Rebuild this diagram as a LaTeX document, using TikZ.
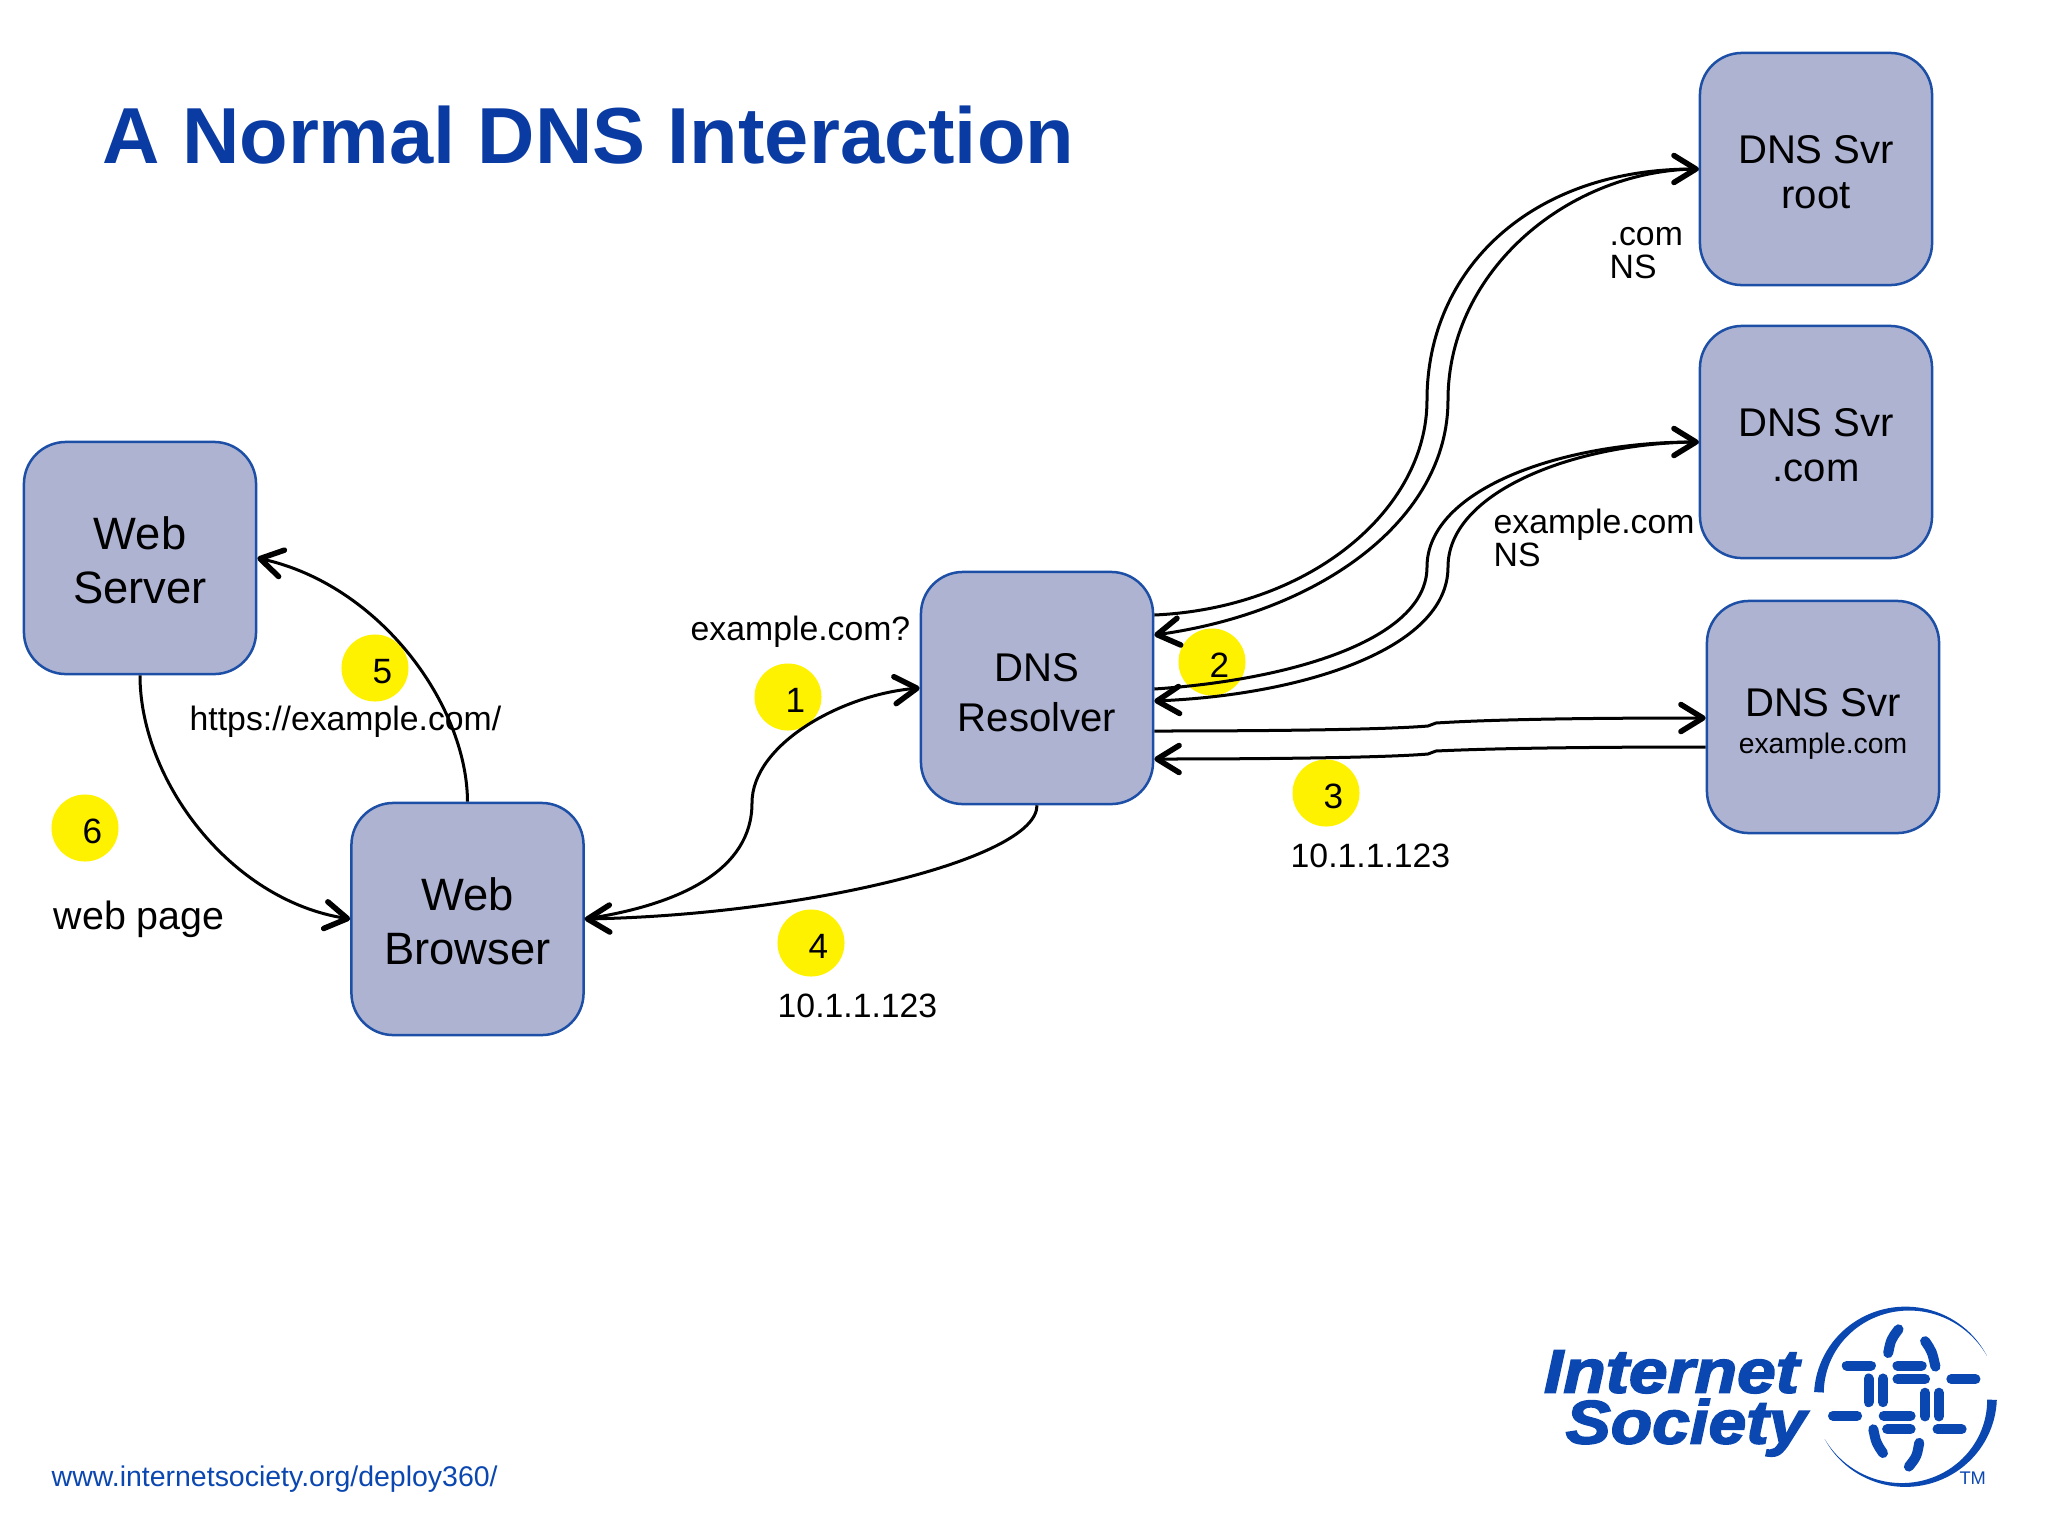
\documentclass[tikz,border=0pt]{standalone}
\usepackage{fontspec}
\setmainfont{Liberation Sans}
\newfontfamily\logofont[FakeBold=2.5]{Liberation Sans Bold Italic}
\usetikzlibrary{arrows.meta,calc}
\definecolor{isocblue}{HTML}{0B47B0}
\definecolor{titleblue}{HTML}{0A3BA3}
\definecolor{boxfill}{HTML}{AEB3D2}
\definecolor{boxline}{HTML}{1D4FA6}
\newcommand{\stepmark}[1]{\hspace{0.15cm}\rule{0pt}{8.8pt}#1}
\tikzset{
    svrbox/.style={draw=boxline, fill=boxfill, line width=0.025cm, rounded corners=0.42cm, minimum size=2.32cm, align=center, inner sep=0pt},
    badge/.style={circle, fill=yellow, minimum size=0.67cm, inner sep=0pt, font=\fontsize{10}{11}\selectfont},
    link/.style={draw=black, line width=0.03cm, -{Straight Barb[length=0.22cm,width=0.27cm,line width=0.055cm,round]}},
    note/.style={anchor=west, inner sep=0pt, align=left, font=\fontsize{9.6}{9.4}\selectfont},
}
\begin{document}
\begin{tikzpicture}[x=0.01cm, y=-0.01cm]
    \useasboundingbox (0,0) rectangle (2048,1536);
    %   Title and web address
    \node[anchor=west, inner sep=0pt, text=titleblue, font=\fontsize{22.6}{28}\selectfont\bfseries] (title) at (102,135) {A Normal DNS Interaction};
    \node[anchor=west, inner sep=0pt, text=isocblue, font=\fontsize{8.1}{10}\selectfont] (url) at (51,1479) {www.internetsociety.org/deploy360/};
    %   Yellow step markers, digits sit a little to the right
    \node[badge] (step1) at (788,697) {\stepmark{1}};
    \node[badge] (step2) at (1212,662) {\stepmark{2}};
    \node[badge] (step3) at (1326,793) {\stepmark{3}};
    \node[badge] (step4) at (811,943) {\stepmark{4}};
    \node[badge] (step5) at (375,668) {\stepmark{5}};
    \node[badge] (step6) at (85,828) {\stepmark{6}};
    %   Boxes
    \node[svrbox, font=\fontsize{12.9}{15.4}\selectfont] (server) at (140,558) {\rule{0pt}{10.8pt}Web\\Server};
    \node[svrbox, font=\fontsize{12.9}{15.4}\selectfont] (browser) at (467.5,919) {\rule{0pt}{10.8pt}Web\\Browser};
    \node[svrbox, font=\fontsize{11.4}{14.2}\selectfont] (resolver) at (1037,688) {\rule{0pt}{10.4pt}DNS\\Resolver};
    \node[svrbox, font=\fontsize{11.4}{13}\selectfont] (root) at (1816,169) {\rule{0pt}{9.7pt}DNS Svr\\root};
    \node[svrbox, font=\fontsize{11.4}{13}\selectfont] (com) at (1816,442) {\rule{0pt}{9.7pt}DNS Svr\\.com};
    \node[svrbox, font=\fontsize{11.4}{10.8}\selectfont] (example) at (1823,717) {\rule{0pt}{11.9pt}DNS Svr\\{\fontsize{8.05}{10.8}\selectfont example.com}};
    %   Labels
    \node[note] (asklabel) at (690,632) {example.com?};
    \node[note] (comlabel) at (1609,253) {.com\\NS};
    \node[note] (nslabel) at (1493,538) {example.com\\NS};
    \node[note] (addrlabel) at (1290,856) {10.1.1.123};
    \node[note] (replylabel) at (777,1006) {10.1.1.123};
    \node[note] (urllabel) at (189,722) {https://example.com/};
    \node[note, font=\fontsize{11.2}{13}\selectfont] (pagelabel) at (53,919) {web page};
    %   Bends half way along the long connectors
    \coordinate (rootout) at (1427,400);
    \coordinate (rootin) at (1448,400);
    \coordinate (comout) at (1427,567);
    \coordinate (comin) at (1448,567);
    \coordinate (exouta) at (1428,726);
    \coordinate (exoutb) at (1436,723);
    \coordinate (exina) at (1436,751);
    \coordinate (exinb) at (1428,754);
    \coordinate (askbend) at (752,803);
    %   Resolver to the name servers and back
    \draw[link] ($(resolver.east)+(0,-73)$) .. controls (1310,608) and (1427,510) .. (rootout) .. controls (1427,270) and (1530,169) .. (root.west);
    \draw[link] (root.west) .. controls (1570,169) and (1448,270) .. (rootin) .. controls (1448,520) and (1320,612) .. ($(resolver.east)+(0,-53)$);
    \draw[link] ($(resolver.east)+(0,1)$) .. controls (1290,680) and (1427,640) .. (comout) .. controls (1427,490) and (1560,442) .. (com.west);
    \draw[link] (com.west) .. controls (1580,442) and (1448,490) .. (comin) .. controls (1448,650) and (1300,695) .. ($(resolver.east)+(0,13)$);
    \draw[link] ($(resolver.east)+(0,43)$) .. controls (1250,731) and (1380,730) .. (exouta) -- (exoutb) .. controls (1500,719) and (1600,718) .. ($(example.west)+(0,1)$);
    \draw[link] ($(example.west)+(0,30)$) .. controls (1600,747) and (1500,748) .. (exina) -- (exinb) .. controls (1380,758) and (1250,759) .. ($(resolver.east)+(0,71)$);
    %   Browser, resolver and web server
    \draw[link] (browser.east) .. controls (680,905) and (752,870) .. (askbend) .. controls (752,745) and (840,695) .. (resolver.west);
    \draw[link] (resolver.south) .. controls (1037,860) and (800,915) .. (browser.east);
    \draw[link] (browser.north) .. controls (467,705) and (380,585) .. (server.east);
    \draw[link] (server.south) .. controls (140,780) and (230,900) .. (browser.west);
    %   Logo, drawn in the coordinates of its own crop
    \begin{scope}[shift={(1500,1270)}, x=0.00345cm, y=-0.00338cm]
        \node[anchor=base west, inner sep=0pt, text=isocblue, xscale=1.13, font=\fontsize{17.5}{20}\logofont] (isocname) at (125,362) {Internet};
        \node[anchor=base west, inner sep=0pt, text=isocblue, xscale=1.1, font=\fontsize{17.5}{20}\logofont] (isocword) at (188,512) {Society};
        \fill[isocblue] plot[domain=177:27, samples=50] ({1175+265*cos(\x)},{374-266*sin(\x)}) -- plot[domain=27:177, samples=50] ({1175+(265-28*(\x-27)/150)*cos(\x)},{374-(266-28*(\x-27)/150)*sin(\x)}) -- cycle;
        \fill[isocblue] plot[domain=-2:-152, samples=50] ({1175+265*cos(\x)},{374-266*sin(\x)}) -- plot[domain=-152:-2, samples=50] ({1175+(265-28*(\x+152)/150)*cos(\x)},{374-(266-28*(\x+152)/150)*sin(\x)}) -- cycle;
        \foreach \xa/\ya/\xb/\yb in {1005/282/1075/282, 1152/282/1222/282, 1152/322/1232/322, 1308/322/1378/322,
            965/430/1035/430, 1112/430/1190/430, 1122/470/1190/470, 1268/470/1338/470,
            1068/320/1068/390, 1110/320/1110/390, 1232/362/1232/432, 1272/362/1272/432}
            \draw[isocblue, line width=0.1cm, line cap=round] (\xa,\ya) -- (\xb,\yb);
        \foreach \xa/\ya/\xc/\yc/\xb/\yb in {1155/175/1133/205/1125/245, 1232/210/1252/240/1262/285,
            1082/470/1090/510/1110/540, 1215/510/1208/550/1185/580}
            \draw[isocblue, line width=0.1cm, line cap=round] (\xa,\ya) .. controls (\xc,\yc) .. (\xb,\yb);
        \node[inner sep=0pt, text=isocblue, font=\fontsize{5.2}{6}\selectfont] (isoctm) at (1370,615) {TM};
    \end{scope}
\end{tikzpicture}
\end{document}
